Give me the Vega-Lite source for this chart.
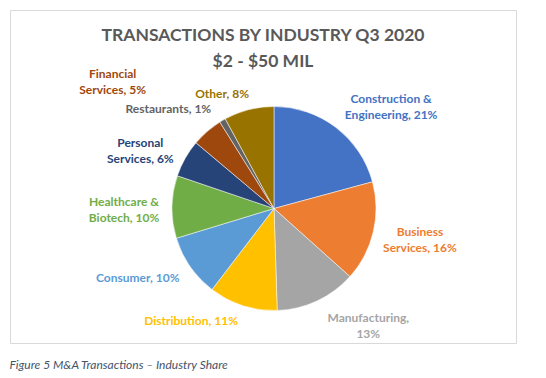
{
  "$schema": "https://vega.github.io/schema/vega-lite/v6.json",
  "padding": {"left": 9, "top": 9, "right": 0, "bottom": 0},
  "background": "white",
  "config": {
    "view": {"stroke": "#D9D9D9", "strokeWidth": 1},
    "concat": {"spacing": 0},
    "font": "Lato"
  },
  "title": {
    "text": "Figure 5 M&A Transactions – Industry Share",
    "orient": "bottom",
    "anchor": "start",
    "font": "Lato",
    "fontStyle": "italic",
    "fontWeight": "normal",
    "fontSize": 12,
    "color": "#44546A",
    "offset": 16
  },
  "vconcat": [
    {
      "width": 506,
      "height": 333,
      "view": {"stroke": "#D9D9D9", "strokeWidth": 1, "fill": "white"},
      "title": {
        "text": ["TRANSACTIONS BY INDUSTRY Q3 2020", "$2 - $50 MIL"],
        "font": "Lato",
        "fontSize": 17.5,
        "fontWeight": "bold",
        "color": "#595959",
        "lineHeight": 26,
        "anchor": "middle",
        "offset": -60
      },
      "data": {
        "values": [
          {"industry": "Construction & Engineering", "share": 21, "label": "Construction &\nEngineering, 21%"},
          {"industry": "Business Services", "share": 16, "label": "Business\nServices, 16%"},
          {"industry": "Manufacturing", "share": 13, "label": "Manufacturing,\n13%"},
          {"industry": "Distribution", "share": 11, "label": "Distribution, 11%"},
          {"industry": "Consumer", "share": 10, "label": "Consumer, 10%"},
          {"industry": "Healthcare & Biotech", "share": 10, "label": "Healthcare &\nBiotech, 10%"},
          {"industry": "Personal Services", "share": 6, "label": "Personal\nServices, 6%"},
          {"industry": "Financial Services", "share": 5, "label": "Financial\nServices, 5%"},
          {"industry": "Restaurants", "share": 1, "label": "Restaurants, 1%"},
          {"industry": "Other", "share": 8, "label": "Other, 8%"}
        ]
      },
      "transform": [{"window": [{"op": "row_number", "as": "idx"}]}],
      "encoding": {
        "theta": {"field": "share", "type": "quantitative", "stack": true},
        "color": {
          "field": "industry",
          "type": "nominal",
          "scale": {
            "domain": ["Construction & Engineering", "Business Services", "Manufacturing", "Distribution", "Consumer", "Healthcare & Biotech", "Personal Services", "Financial Services", "Restaurants", "Other"],
            "range": ["#4472C4", "#ED7D31", "#A5A5A5", "#FFC000", "#5B9BD5", "#70AD47", "#264478", "#9E480E", "#636363", "#997300"]
          },
          "legend": null
        },
        "order": {"field": "idx", "type": "quantitative"}
      },
      "layer": [
        {"mark": {"type": "arc", "radius": 102, "stroke": "white", "strokeWidth": 0.5, "xOffset": 11, "yOffset": 32}},
        {"mark": {"type": "text", "clip": true, "radius": 150, "xOffset": 11, "yOffset": 32, "dx": 26, "dy": 10, "fontWeight": "bold", "fontSize": 12, "lineBreak": "\n", "lineHeight": 16},
         "encoding": {"text": {"condition": {"test": "datum.industry === 'Construction & Engineering'", "field": "label"}, "value": ""}}},
        {"mark": {"type": "text", "clip": true, "radius": 150, "xOffset": 11, "yOffset": 32, "dx": 0, "dy": -11, "fontWeight": "bold", "fontSize": 12, "lineBreak": "\n", "lineHeight": 16},
         "encoding": {"text": {"condition": {"test": "datum.industry === 'Business Services'", "field": "label"}, "value": ""}}},
        {"mark": {"type": "text", "clip": true, "radius": 150, "xOffset": 11, "yOffset": 32, "dx": 31, "dy": -27, "fontWeight": "bold", "fontSize": 12, "lineBreak": "\n", "lineHeight": 16},
         "encoding": {"text": {"condition": {"test": "datum.industry === 'Manufacturing'", "field": "label"}, "value": ""}}},
        {"mark": {"type": "text", "clip": true, "radius": 150, "xOffset": 11, "yOffset": 32, "dx": -37, "dy": -30, "fontWeight": "bold", "fontSize": 12, "lineBreak": "\n", "lineHeight": 16},
         "encoding": {"text": {"condition": {"test": "datum.industry === 'Distribution'", "field": "label"}, "value": ""}}},
        {"mark": {"type": "text", "clip": true, "radius": 150, "xOffset": 11, "yOffset": 32, "dx": -13, "dy": -16, "fontWeight": "bold", "fontSize": 12, "lineBreak": "\n", "lineHeight": 16},
         "encoding": {"text": {"condition": {"test": "datum.industry === 'Consumer'", "field": "label"}, "value": ""}}},
        {"mark": {"type": "text", "clip": true, "radius": 150, "xOffset": 11, "yOffset": 32, "dx": 0, "dy": -4, "fontWeight": "bold", "fontSize": 12, "lineBreak": "\n", "lineHeight": 16},
         "encoding": {"text": {"condition": {"test": "datum.industry === 'Healthcare & Biotech'", "field": "label"}, "value": ""}}},
        {"mark": {"type": "text", "clip": true, "radius": 150, "xOffset": 11, "yOffset": 32, "dx": -3, "dy": 8, "fontWeight": "bold", "fontSize": 12, "lineBreak": "\n", "lineHeight": 16},
         "encoding": {"text": {"condition": {"test": "datum.industry === 'Personal Services'", "field": "label"}, "value": ""}}},
        {"mark": {"type": "text", "clip": true, "radius": 150, "xOffset": 11, "yOffset": 32, "dx": -63, "dy": -21, "fontWeight": "bold", "fontSize": 12, "lineBreak": "\n", "lineHeight": 16},
         "encoding": {"text": {"condition": {"test": "datum.industry === 'Financial Services'", "field": "label"}, "value": ""}}},
        {"mark": {"type": "text", "clip": true, "radius": 150, "xOffset": 11, "yOffset": 32, "dx": -30, "dy": 30, "fontWeight": "bold", "fontSize": 12, "lineBreak": "\n", "lineHeight": 16},
         "encoding": {"text": {"condition": {"test": "datum.industry === 'Restaurants'", "field": "label"}, "value": ""}}},
        {"mark": {"type": "text", "clip": true, "radius": 150, "xOffset": 11, "yOffset": 32, "dx": -15, "dy": 31, "fontWeight": "bold", "fontSize": 12, "lineBreak": "\n", "lineHeight": 16},
         "encoding": {"text": {"condition": {"test": "datum.industry === 'Other'", "field": "label"}, "value": ""}}}
      ]
    }
  ]
}
